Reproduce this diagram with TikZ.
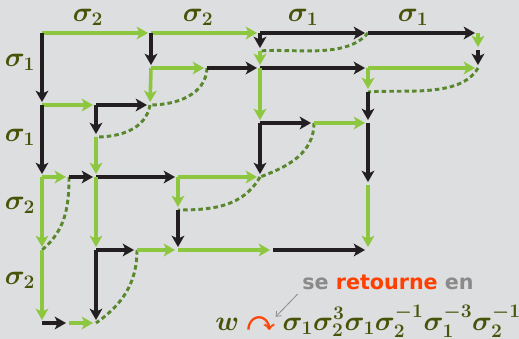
\documentclass[tikz,border=0pt]{standalone}
\usepackage{amsmath, amssymb, bm}
\usepackage{fontspec}
\usepackage{tikz}
\usetikzlibrary{arrows.meta, positioning}
\newfontfamily\retfont{DejaVu Sans}
\definecolor{bggray}{RGB}{221,222,224}
\definecolor{sgreen}{RGB}{141,198,63}
\definecolor{sblack}{RGB}{35,31,32}
\definecolor{epsgreen}{RGB}{88,135,45}
\definecolor{labolive}{RGB}{72,82,8}
\definecolor{retorange}{RGB}{255,64,0}
\definecolor{txtgray}{RGB}{138,138,138}

\begin{document}
\begin{tikzpicture}[
    x=0.75pt, y=0.75pt,
    sone/.style={draw=sblack, line width=2.7pt,
                 -{Stealth[length=8.5pt, width=9.5pt, inset=2.2pt]}, shorten >=2.2pt},
    stwo/.style={sone, draw=sgreen},
    eps/.style={draw=epsgreen, line width=2.2pt, dash pattern=on 3.4pt off 2.3pt},
    lab/.style={text=labolive, font=\fontsize{20}{24}\selectfont, inner sep=1pt},
    fml/.style={text=labolive, font=\fontsize{19.5}{24}\selectfont, inner sep=0pt},
    note/.style={draw=txtgray, line width=0.6pt, -{Straight Barb[length=3pt, width=5pt]}}
]
    \fill[bggray] (0,0) rectangle (519,-339);
    \useasboundingbox (0,0) rectangle (519,-339);

    \coordinate (a) at (42,-33);  \coordinate (b) at (151,-33);
    \coordinate (c) at (260,-33); \coordinate (d) at (368,-33);
    \coordinate (e) at (478,-33);
    \coordinate (i) at (260,-51); \coordinate (m) at (478,-50);
    \coordinate (f) at (151,-68); \coordinate (g) at (207,-68);
    \coordinate (h) at (260,-68); \coordinate (j) at (368,-68);
    \coordinate (k) at (478,-68); \coordinate (l) at (368,-92);
    \coordinate (B) at (42,-105); \coordinate (C) at (96,-105);
    \coordinate (E) at (150,-105);
    \coordinate (o) at (260,-123); \coordinate (p) at (314,-123);
    \coordinate (n) at (368,-123); \coordinate (F) at (96,-137);
    \coordinate (D) at (42,-177); \coordinate (H) at (69,-177);
    \coordinate (G) at (96,-177); \coordinate (r) at (178,-177);
    \coordinate (q) at (260,-177); \coordinate (t) at (368,-185);
    \coordinate (s) at (178,-210);
    \coordinate (I) at (42,-250); \coordinate (J) at (96,-250);
    \coordinate (L) at (137,-250); \coordinate (K) at (178,-250);
    \coordinate (N) at (273,-250); \coordinate (u) at (368,-250);
    \coordinate (O) at (42,-323); \coordinate (P) at (69,-323);
    \coordinate (M) at (96,-323);

    \node[lab] (t1) at (88,-17) {$\bm{\sigma_2}$};
    \node[lab] (t2) at (198,-17) {$\bm{\sigma_2}$};
    \node[lab] (t3) at (303,-17) {$\bm{\sigma_1}$};
    \node[lab] (t4) at (413,-17) {$\bm{\sigma_1}$};
    \node[lab] (l1) at (20,-62) {$\bm{\sigma_1}$};
    \node[lab] (l2) at (20,-137) {$\bm{\sigma_1}$};
    \node[lab] (l3) at (20,-205) {$\bm{\sigma_2}$};
    \node[lab] (l4) at (20,-280) {$\bm{\sigma_2}$};

    \draw[eps] (d) to[out=-130, in=5, looseness=0.8] (i);
    \draw[eps] (g) to[out=-92, in=0] (E);
    \draw[eps] (E) to[out=-100, in=0] (F);
    \draw[eps] (k) to[out=-120, in=5, looseness=0.8] (l);
    \draw[eps] (p) to[out=-90, in=20] (q);
    \draw[eps] (q) to[out=-120, in=0] (s);
    \draw[eps] (H) to[out=-90, in=40] (I);
    \draw[eps] (L) to[out=-90, in=35] (M);

    \draw[stwo] (a) -- (b);
    \draw[stwo] (b) -- (c);
    \draw[sone] (c) -- (d);
    \draw[sone] (d) -- (e);
    \draw[sone] (a) -- (B);
    \draw[sone] (b) -- (f);
    \draw[sone] (c) -- (i);
    \draw[stwo] (i) -- (h);
    \draw[stwo] (e) -- (m);
    \draw[sone] (m) -- (k);
    \draw[stwo] (f) -- (g);
    \draw[sone] (g) -- (h);
    \draw[sone] (h) -- (j);
    \draw[stwo] (j) -- (k);
    \draw[stwo] (f) -- (E);
    \draw[stwo] (j) -- (l);
    \draw[sone] (l) -- (n);
    \draw[stwo] (h) -- (o);
    \draw[stwo] (B) -- (C);
    \draw[sone] (C) -- (E);
    \draw[sone] (C) -- (F);
    \draw[sone] (B) -- (D);
    \draw[stwo] (F) -- (G);
    \draw[sone] (o) -- (p);
    \draw[stwo] (p) -- (n);
    \draw[sone] (o) -- (q);
    \draw[sone] (n) -- (t);
    \draw[stwo] (t) -- (u);
    \draw[stwo] (D) -- (H);
    \draw[sone] (H) -- (G);
    \draw[stwo] (D) -- (I);
    \draw[sone] (G) -- (r);
    \draw[stwo] (G) -- (J);
    \draw[stwo] (r) -- (q);
    \draw[stwo] (r) -- (s);
    \draw[sone] (s) -- (K);
    \draw[sone] (J) -- (L);
    \draw[sone] (J) -- (M);
    \draw[stwo] (L) -- (K);
    \draw[stwo] (K) -- (N);
    \draw[sone] (N) -- (u);
    \draw[stwo] (I) -- (O);
    \draw[sone] (O) -- (P);
    \draw[stwo] (P) -- (M);

    \node[font=\retfont\bfseries\fontsize{15.5}{18}\selectfont, text=txtgray] (ret) at (388,-282)
        {se \textcolor{retorange}{retourne} en};
    \node[fml, anchor=base west] (w) at (215,-330) {$\bm{w}$};
    \node[fml, base right=5pt of w, text=retorange] (curv)
        {\fontsize{21}{24}\selectfont$\bm{\curvearrowright}$};
    \node[fml, base right=5pt of curv] (word)
        {$\bm{\sigma_1\sigma_2^3\sigma_1\sigma_2^{-1}\sigma_1^{-3}\sigma_2^{-1}}$};
    \draw[note] (ret.south west) -- (curv.north east);
\end{tikzpicture}
\end{document}
